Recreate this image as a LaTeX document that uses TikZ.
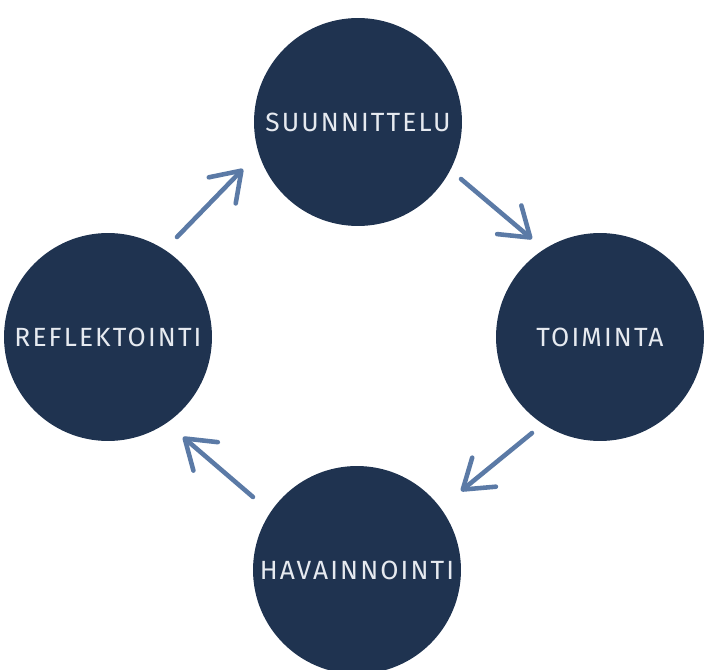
\documentclass[tikz,border=0pt]{standalone}
\usepackage{fontspec}
\setmainfont{Fira Sans}[LetterSpace=8]
\usetikzlibrary{arrows.meta}
\definecolor{cyclenavy}{HTML}{1F3350}
\definecolor{cyclearrow}{HTML}{5B7AA6}
\definecolor{cycletext}{HTML}{E6EAF0}
\begin{document}
\begin{tikzpicture}[x=0.02cm,y=-0.02cm]
			\useasboundingbox (0,0) rectangle (704,670);
			\begin{scope}[every node/.style={circle,fill=cyclenavy,minimum size=4.16cm,inner sep=0pt,text=cycletext,font=\fontsize{15}{17}\selectfont}]
			\node 	(suun) at (358, 122)   {SUUNNITTELU};
			\node 	(toim) at (600, 337)   {TOIMINTA};
			\node 	(hava) at (357, 570)   {HAVAINNOINTI};
			\node 	(refl) at (108, 337)   {REFLEKTOINTI};
			\end{scope}
			
			\coordinate (a1s) at (177, 237);
			\coordinate (a1e) at (243, 169);
			\coordinate (a2s) at (461, 179);
			\coordinate (a2e) at (532, 239);
			\coordinate (a3s) at (532, 433);
			\coordinate (a3e) at (461, 491);
			\coordinate (a4s) at (253, 497);
			\coordinate (a4e) at (183, 437);
			
			\begin{scope}[cyclearrow,line width=2.6pt,line cap=round,
				-{Straight Barb[length=0.55cm,width=0.75cm,line cap=round,line join=round]}]
			\path [draw] (a1s) -- (a1e);
			\path [draw] (a2s) -- (a2e);
			\path [draw] (a3s) -- (a3e);
			\path [draw] (a4s) -- (a4e);
			\end{scope}
\end{tikzpicture}
\end{document}
